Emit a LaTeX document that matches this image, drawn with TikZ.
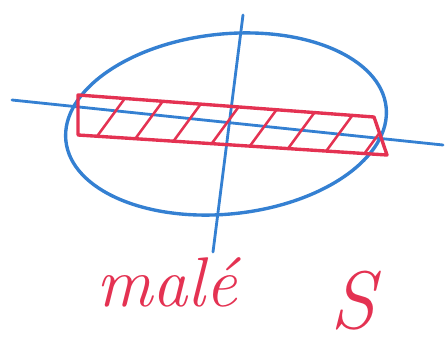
\documentclass[tikz,border=0pt]{standalone}
\usepackage{tikz}
\usetikzlibrary{positioning,calc}
\definecolor{penblue}{RGB}{52,128,210}
\definecolor{penred} {RGB}{228,50,82}
\tikzset{
  % blue pen strokes
  bluepen/.style={draw=penblue, line width=2.4pt, line cap=round, line join=round},
  % red pen strokes
  redpen/.style ={draw=penred, line width=2.4pt, line cap=round, line join=round},
  % hatch lines inside the strip
  hatch/.style  ={draw=penred, line width=1.8pt, line cap=round},
  % handwritten label
  lbl/.style    ={text=penred, inner sep=0pt, font=\itshape},
}
\begin{document}
\begin{tikzpicture}[x=0.025cm,y=-0.025cm]
    \useasboundingbox[fill=white] (0,0) rectangle (445,342);

    %% ── Ellipse ────────────────────────────────────────────
    \draw[bluepen,rotate around={6:(226,124)}] (226,124) ellipse (161 and 90);

    %% ── Axes ───────────────────────────────────────────────
    \coordinate (xl) at (12,100);
    \coordinate (xr) at (443,145);
    \coordinate (yt) at (243,15);
    \coordinate (yb) at (213,252);
    \draw[bluepen,line width=2pt] (xl) -- (xr);
    \draw[bluepen,line width=2pt] (yt) -- (yb);

    %% ── Hatched strip ──────────────────────────────────────
    \coordinate (tl) at (78,95);
    \coordinate (tr) at (374,117);
    \coordinate (br) at (387,155);
    \coordinate (bl) at (78,135);
    \begin{scope}
      \clip (tl) -- (tr) -- (br) -- (bl) -- cycle;
      \foreach \x in {76,116,156,196,236,276,316,356}
        \draw[hatch] (\x,165) -- ++(55,-75);
    \end{scope}
    \draw[redpen] (tl) -- (tr) -- (br) -- (bl) -- cycle;

    %% ── Label ──────────────────────────────────────────────
    \node[lbl,font=\fontsize{50}{50}\selectfont\itshape,anchor=base west]
         (small) at (96,306) {malé};
    \node[lbl,font=\fontsize{58}{58}\selectfont\itshape,anchor=base west]
         (bigS) at (330,328) {S};

  \end{tikzpicture}
\end{document}
